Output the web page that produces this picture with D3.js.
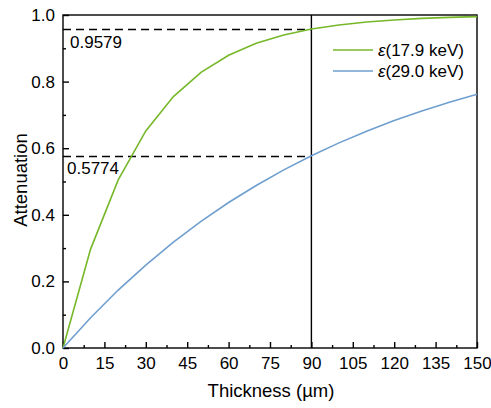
<!DOCTYPE html>
<html>
<head>
<meta charset="utf-8">
<script src="https://cdn.jsdelivr.net/npm/d3@7"></script>
<style>
  body { margin: 0; background: #fff; }
  svg { display: block; font-family: "Liberation Sans", Arial, sans-serif; }
</style>
</head>
<body>
<div id="chart"></div>
<script>
// thickness in µm
const thickness = [0, 10, 20, 30, 40, 50, 60, 70, 80, 90, 100, 110, 120, 130, 140, 150]
const att179 = [0, 0.297, 0.505, 0.652, 0.755, 0.828, 0.879, 0.915, 0.940, 0.9579, 0.970, 0.979, 0.985, 0.990, 0.993, 0.995]
const att290 = [0, 0.091, 0.174, 0.249, 0.318, 0.380, 0.437, 0.488, 0.535, 0.5774, 0.616, 0.651, 0.683, 0.712, 0.738, 0.762]
const seriesNames = ["(17.9 keV)", "(29.0 keV)"]
const xTicks = [0, 15, 30, 45, 60, 75, 90, 105, 120, 135, 150]
const yTicks = [0, 0.2, 0.4, 0.6, 0.8, 1.0]
const markX = 90
const markValues = [0.9579, 0.5774]

const width = 491, height = 408
const margin = {top: 15, right: 14, bottom: 60, left: 63}
const colors = ["#76b82a", "#6f9fcf"]
const fontFam = "Liberation Sans, Arial, sans-serif"

const svg = d3.select("#chart").append("svg")
  .attr("width", width)
  .attr("height", height)

const x = d3.scaleLinear().domain([0, 150]).range([margin.left, width - margin.right])
const y = d3.scaleLinear().domain([0, 1]).range([height - margin.bottom, margin.top])

const g = svg.append("g")

// frame
g.append("rect")
  .attr("x", x(0)).attr("y", y(1))
  .attr("width", x(150) - x(0)).attr("height", y(0) - y(1))
  .attr("fill", "none").attr("stroke", "#000").attr("stroke-width", 1.4)

// x axis, ticks inward
const xAxis = d3.axisBottom(x).tickValues(xTicks).tickSize(-6).tickPadding(9)
const gx = g.append("g").attr("transform", `translate(0,${y(0)})`).call(xAxis)
gx.select(".domain").remove()
gx.selectAll("text").attr("font-size", 17).attr("font-family", fontFam).attr("fill", "#000")
gx.selectAll("line").attr("stroke-width", 1.4)
// minor
g.append("g").attr("transform", `translate(0,${y(0)})`)
  .call(d3.axisBottom(x).tickValues(d3.range(7.5, 150, 15)).tickSize(-3).tickFormat(""))
  .call(s => s.select(".domain").remove())
  .selectAll("line").attr("stroke-width", 1.4)

const yAxis = d3.axisLeft(y).tickValues(yTicks).tickSize(-6).tickPadding(8).tickFormat(d3.format(".1f"))
const gy = g.append("g").attr("transform", `translate(${x(0)},0)`).call(yAxis)
gy.select(".domain").remove()
gy.selectAll("text").attr("font-size", 17).attr("font-family", fontFam).attr("fill", "#000")
gy.selectAll("line").attr("stroke-width", 1.4)
g.append("g").attr("transform", `translate(${x(0)},0)`)
  .call(d3.axisLeft(y).tickValues(d3.range(0.1, 1, 0.2)).tickSize(-3).tickFormat(""))
  .call(s => s.select(".domain").remove())
  .selectAll("line").attr("stroke-width", 1.4)

// vertical marker line
g.append("line")
  .attr("x1", x(markX)).attr("x2", x(markX))
  .attr("y1", y(0)).attr("y2", y(1))
  .attr("stroke", "#000").attr("stroke-width", 1.4)

// dashed guides
markValues.forEach((v, i) => {
  g.append("line")
    .attr("x1", x(0)).attr("x2", x(markX))
    .attr("y1", Math.round(y(v)) + 0.5).attr("y2", Math.round(y(v)) + 0.5)
    .attr("stroke", "#000").attr("stroke-width", 1.3)
    .attr("stroke-dasharray", "8,5")
  g.append("text")
    .attr("x", x(0) + (i == 0 ? 7 : 4)).attr("y", y(v) + (i == 0 ? 19 : 18))
    .attr("font-size", 17)
    .text(v.toFixed(4))
})

// curves
const line = d3.line().x(d => x(d[0])).y(d => y(d[1]))
;[att179, att290].forEach((vals, i) => {
  g.append("path")
    .datum(thickness.map((t, j) => [t, vals[j]]))
    .attr("fill", "none")
    .attr("stroke", colors[i])
    .attr("stroke-width", 1.6)
    .attr("d", line)
})

// legend
const lg = g.append("g").attr("transform", "translate(333,50)")
seriesNames.forEach((name, i) => {
  lg.append("line")
    .attr("x1", 0).attr("x2", 40)
    .attr("y1", i * 21).attr("y2", i * 21)
    .attr("stroke", colors[i]).attr("stroke-width", 1.6)
  const t = lg.append("text")
    .attr("x", 45).attr("y", i * 21 + 6)
    .attr("font-size", 17)
  t.append("tspan").attr("font-style", "italic").text("ε")
  t.append("tspan").text(name)
})

// axis titles
svg.append("text")
  .attr("x", 271).attr("y", 397)
  .attr("text-anchor", "middle")
  .attr("font-size", 18.5)
  .text("Thickness (µm)")

svg.append("text")
  .attr("transform", `translate(27,180) rotate(-90)`)
  .attr("text-anchor", "middle")
  .attr("font-size", 18.5)
  .text("Attenuation")
</script>
</body>
</html>
